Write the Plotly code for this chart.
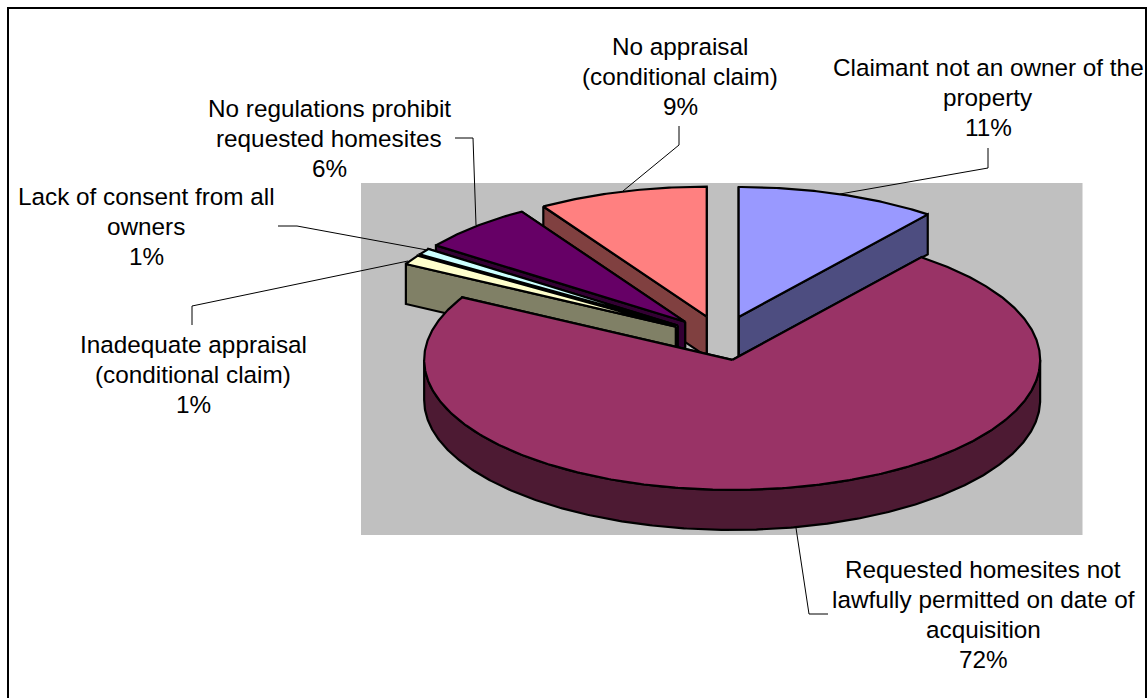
import math
import plotly.graph_objects as go

# ---- data (clockwise from 12 o'clock) ----
categories = [
    "Claimant not an owner of the property",
    "Requested homesites not lawfully permitted on date of acquisition",
    "Inadequate appraisal (conditional claim)",
    "Lack of consent from all owners",
    "No regulations prohibit requested homesites",
    "No appraisal (conditional claim)",
]
values = [10.52, 72.48, 1.2, 0.8, 6.1, 8.9]
top_colors = ["#9999FF", "#993366", "#FFFFCC", "#CCFFFF", "#660066", "#FF8080"]
side_colors = ["#4D4D80", "#4D1A33", "#808066", "#668080", "#330033", "#804040"]
label_lines = [
    ["Claimant not an owner of the", "property"],
    ["Requested homesites not", "lawfully permitted on date of", "acquisition"],
    ["Inadequate appraisal", "(conditional claim)"],
    ["Lack of consent from all", "owners"],
    ["No regulations prohibit", "requested homesites"],
    ["No appraisal", "(conditional claim)"],
]
label_x = [988, 983, 193, 146, 329, 680]
label_y = [67, 569, 344, 196, 108, 46]
leaders = [
    ([840, 988, 988], [194, 168, 148]),
    ([796, 809, 828], [528, 614, 614]),
    ([408, 192, 192], [261, 306, 325]),
    ([427, 297, 278], [250, 226, 226]),
    ([476, 473, 455], [225, 138, 138]),
    ([623, 679, 679], [191, 145, 126]),
]

# ---- pseudo-3D pie geometry ----
CX, CY = 721.4, 338.1
RX, RY = 308.0, 130.0
EX, EY = 53.2, 22.3
DEPTH = 40.0
W, H = 1147, 698


def arc(ax, ay, a0, a1):
    n = max(2, int(abs(a1 - a0) * 2))
    pts = [a0 + (a1 - a0) * i / n for i in range(n + 1)]
    return ([ax + RX * math.sin(math.radians(t)) for t in pts],
            [ay - RY * math.cos(math.radians(t)) for t in pts])


def poly(xs, ys, color, lw=2.2):
    return go.Scatter(x=xs + xs[:1], y=ys + ys[:1], mode="lines", fill="toself",
                      fillcolor=color, line=dict(color="black", width=lw),
                      hoverinfo="skip", showlegend=False)


total = sum(values)
slices = []
angle = 0.0
for v, tc, sc in zip(values, top_colors, side_colors):
    a0, a1 = angle, angle + v / total * 360.0
    mid = math.radians((a0 + a1) / 2)
    slices.append(dict(a0=a0, a1=a1, ax=CX + EX * math.sin(mid), ay=CY - EY * math.cos(mid), top=tc, side=sc))
    angle = a1

fig = go.Figure()
# painter's order: back slices first, largest front slice last
for i in [5, 4, 3, 2, 0, 1]:
    s = slices[i]
    ax, ay = s["ax"], s["ay"]
    for edge in (s["a1"], s["a0"]):
        ex = ax + RX * math.sin(math.radians(edge))
        ey = ay - RY * math.cos(math.radians(edge))
        fig.add_trace(poly([ax, ex, ex, ax], [ay, ey, ey + DEPTH, ay + DEPTH], s["side"]))
    lo, hi = max(s["a0"], 90.0), min(s["a1"], 270.0)
    if hi > lo:
        xs, ys = arc(ax, ay, lo, hi)
        fig.add_trace(poly(xs + xs[::-1], ys + [y + DEPTH for y in ys[::-1]], s["side"]))
    xs, ys = arc(ax, ay, s["a0"], s["a1"])
    fig.add_trace(poly([ax] + xs, [ay] + ys, s["top"]))

for lx, ly in leaders:
    fig.add_trace(go.Scatter(x=lx, y=ly, mode="lines", line=dict(color="black", width=1),
                             hoverinfo="skip", showlegend=False))

annotations = []
for lines, v, x0, y0 in zip(label_lines, values, label_x, label_y):
    for j, text in enumerate(lines + [f"{round(v)}%"]):
        annotations.append(dict(x=x0, y=y0 + j * 30.2, text=text, showarrow=False,
                                xanchor="center", yanchor="middle",
                                font=dict(family="Liberation Sans", size=24.3, color="black")))

fig.update_layout(
    width=W, height=H, margin=dict(l=0, r=0, t=0, b=0),
    paper_bgcolor="white", plot_bgcolor="white", showlegend=False,
    xaxis=dict(range=[0, W], visible=False, fixedrange=True),
    yaxis=dict(range=[H, 0], visible=False, fixedrange=True),
    annotations=annotations,
    shapes=[
        dict(type="rect", x0=361, x1=1082.5, y0=183, y1=535, fillcolor="#C0C0C0",
             line=dict(width=0), layer="below"),
        dict(type="rect", x0=8, x1=1146, y0=8, y1=720, line=dict(color="black", width=2),
             layer="above"),
    ],
)
fig.write_html("out.html", config={"displayModeBar": False},
               post_script="document.body.style.margin='0';document.body.style.overflow='hidden';")
